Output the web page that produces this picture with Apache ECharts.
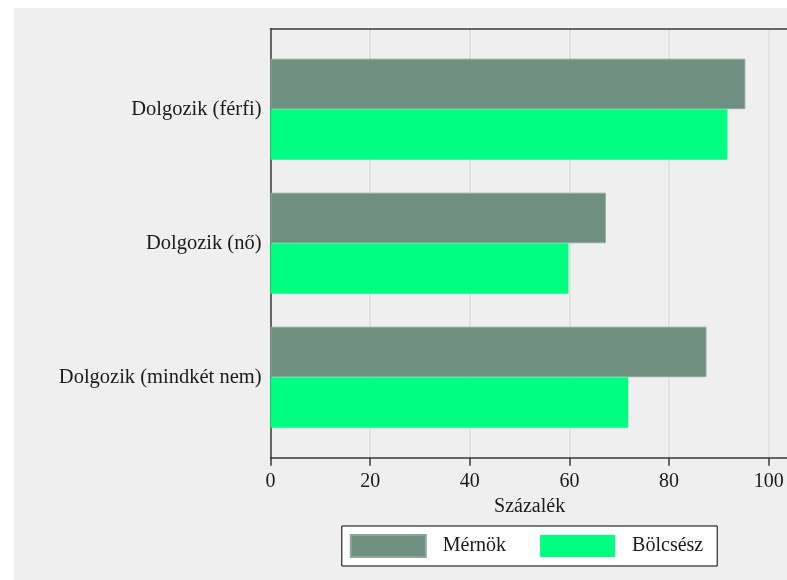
<!DOCTYPE html>
<html>
<head>
<meta charset="utf-8">
<script src="https://cdn.jsdelivr.net/npm/echarts@6/dist/echarts.min.js"></script>
<style>
html,body{margin:0;padding:0;background:#ffffff;width:787px;height:580px;overflow:hidden;}
#chart{position:absolute;left:14px;top:8px;width:773px;height:572px;}
</style>
</head>
<body>
<div id="chart"></div>
<script>
var categories = ['Dolgozik (férfi)', 'Dolgozik (nő)', 'Dolgozik (mindkét nem)'];
var seriesNames = ['Mérnök', 'Bölcsész'];
var mernok = [95.3, 67.3, 87.5];
var bolcsesz = [91.7, 59.8, 71.8];
var xTicks = [0, 20, 40, 60, 80, 100];
var xAxisTitle = 'Százalék';

var FONT = 'Liberation Serif';
var xMin = 0, xMax = 104, xInterval = 20;

var chart = echarts.init(document.getElementById('chart'));
var gridLeft = 256.5, gridWidth = 518.2;
var lineStyle = {color: '#3a3a3a', width: 1.5};
chart.setOption({
  backgroundColor: '#efefef',
  animation: false,
  textStyle: {fontFamily: FONT},
  grid: [
    {left: gridLeft, width: gridWidth, top: 20.7, bottom: 122.3, containLabel: false, outerBoundsMode: 'none'},
    {left: gridLeft, width: gridWidth, top: 34.2, bottom: 135.8, containLabel: false, outerBoundsMode: 'none'}
  ],
  xAxis: [
    {type: 'value', gridIndex: 0, min: xMin, max: xMax, interval: xInterval,
     name: xAxisTitle, nameLocation: 'middle', nameGap: 34,
     nameTextStyle: {fontFamily: FONT, fontSize: 20, color: '#1a1a1a'},
     axisLine: {show: true, lineStyle: lineStyle},
     axisTick: {show: true, length: 8, lineStyle: lineStyle},
     axisLabel: {show: true, margin: 14, fontFamily: FONT, fontSize: 20, color: '#1a1a1a',
       showMaxLabel: false,
       formatter: function (v) { return xTicks.indexOf(v) >= 0 ? String(v) : ''; }},
     splitLine: {show: true, lineStyle: {color: '#dcdcdc', width: 1.5}}},
    {type: 'value', gridIndex: 0, position: 'top', min: xMin, max: xMax, interval: xInterval,
     axisLine: {show: true, lineStyle: lineStyle},
     axisTick: {show: false}, axisLabel: {show: false}, splitLine: {show: false}},
    {type: 'value', gridIndex: 1, min: xMin, max: xMax, interval: xInterval, show: false}
  ],
  yAxis: [
    {type: 'value', gridIndex: 0, min: 0, max: 1,
     axisLine: {show: true, lineStyle: lineStyle},
     axisTick: {show: false}, axisLabel: {show: false}, splitLine: {show: false}},
    {type: 'category', gridIndex: 1, data: categories, inverse: true,
     axisLine: {show: false}, axisTick: {show: false},
     axisLabel: {margin: 9, fontFamily: FONT, fontSize: 20.5, color: '#1a1a1a'},
     splitLine: {show: false}}
  ],
  legend: {
    data: seriesNames,
    left: 327.8, top: 518,
    orient: 'horizontal',
    backgroundColor: '#ffffff',
    borderColor: '#000000', borderWidth: 1, borderRadius: 0,
    padding: [8, 14, 8, 8],
    itemWidth: 75, itemHeight: 22, itemGap: 34,
    icon: 'rect',
    selectedMode: false,
    textStyle: {fontFamily: FONT, fontSize: 20, color: '#1a1a1a', padding: [0, 0, 0, 12]}
  },
  series: [
    {name: seriesNames[0], type: 'bar', xAxisIndex: 2, yAxisIndex: 1, data: mernok,
     barWidth: 50.5, barGap: '0%',
     itemStyle: {color: '#6e8f82', borderColor: '#8fa69c', borderWidth: 1}},
    {name: seriesNames[1], type: 'bar', xAxisIndex: 2, yAxisIndex: 1, data: bolcsesz,
     barWidth: 50.5, barGap: '0%',
     itemStyle: {color: '#00ff80', borderWidth: 0}}
  ]
});
</script>
</body>
</html>
